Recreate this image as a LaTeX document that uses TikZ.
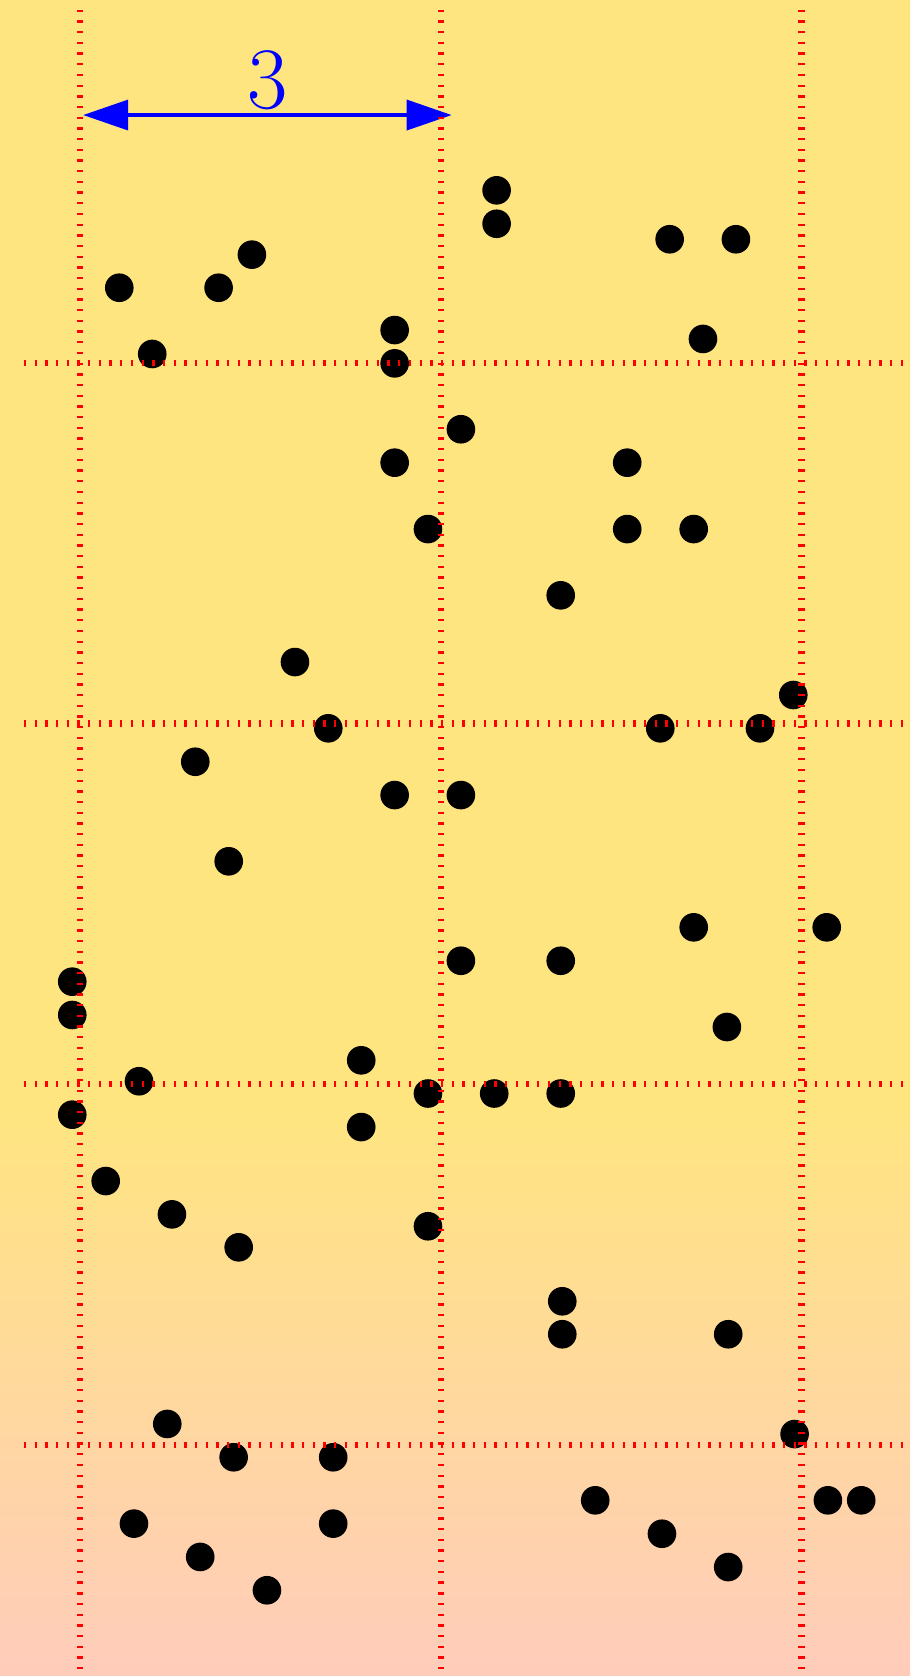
\documentclass[tikz,border=0pt]{standalone}
\usetikzlibrary{arrows.meta}
\definecolor{bgyellow}{RGB}{255,229,128}
\definecolor{bgpink}{RGB}{255,204,187}
\pgfdeclareverticalshading{bgfade}{100bp}{color(0bp)=(bgpink); color(25bp)=(bgpink); color(42bp)=(bgyellow); color(100bp)=(bgyellow)}
\tikzset{
  ball/.style={circle, fill=black, inner sep=0pt, minimum size=0.238cm},
  gridline/.style={red, line width=1.45pt, dash pattern=on 0.55pt off 1.98pt},
  measure/.style={{Triangle[length=0.374cm, width=0.25cm]}-{Triangle[length=0.374cm, width=0.25cm]}, blue, line width=0.8pt},
  measurelabel/.style={text=blue, font=\fontsize{21}{25}\selectfont, inner sep=1.1pt},
}

\begin{document}
\begin{tikzpicture}
  \shade[shading=bgfade] (-0.665,-1.921) rectangle (6.903,12.017);
  \useasboundingbox (-0.665,-1.921) rectangle (6.903,12.017);
  % points
  \node[ball] (p1) at (3.465,10.434) {};
  \node[ball] (p2) at (3.465,10.156) {};
  \node[ball] (p3) at (4.904,10.027) {};
  \node[ball] (p4) at (5.455,10.027) {};
  \node[ball] (p5) at (1.430,9.899) {};
  \node[ball] (p6) at (0.327,9.624) {};
  \node[ball] (p7) at (1.153,9.624) {};
  \node[ball] (p8) at (2.617,9.272) {};
  \node[ball] (p9) at (0.601,9.073) {};
  \node[ball] (p10) at (2.617,8.995) {};
  \node[ball] (p11) at (5.181,9.198) {};
  \node[ball] (p12) at (3.168,8.447) {};
  \node[ball] (p13) at (2.617,8.169) {};
  \node[ball] (p14) at (4.551,8.169) {};
  \node[ball] (p15) at (2.894,7.617) {};
  \node[ball] (p16) at (4.551,7.617) {};
  \node[ball] (p17) at (5.104,7.617) {};
  \node[ball] (p18) at (3.998,7.066) {};
  \node[ball] (p19) at (1.788,6.511) {};
  \node[ball] (p20) at (5.932,6.237) {};
  \node[ball] (p21) at (2.065,5.960) {};
  \node[ball] (p22) at (4.826,5.960) {};
  \node[ball] (p23) at (5.655,5.960) {};
  \node[ball] (p24) at (0.959,5.682) {};
  \node[ball] (p25) at (2.617,5.405) {};
  \node[ball] (p26) at (3.168,5.405) {};
  \node[ball] (p27) at (1.237,4.854) {};
  \node[ball] (p28) at (5.104,4.305) {};
  \node[ball] (p29) at (6.210,4.305) {};
  \node[ball] (p30) at (3.168,4.027) {};
  \node[ball] (p31) at (3.998,4.027) {};
  \node[ball] (p32) at (-0.064,3.853) {};
  \node[ball] (p33) at (-0.064,3.576) {};
  \node[ball] (p34) at (5.380,3.476) {};
  \node[ball] (p35) at (2.339,3.199) {};
  \node[ball] (p36) at (0.491,3.025) {};
  \node[ball] (p37) at (2.894,2.923) {};
  \node[ball] (p38) at (3.445,2.923) {};
  \node[ball] (p39) at (3.998,2.923) {};
  \node[ball] (p40) at (-0.064,2.747) {};
  \node[ball] (p41) at (2.339,2.644) {};
  \node[ball] (p42) at (0.214,2.195) {};
  \node[ball] (p43) at (0.765,1.918) {};
  \node[ball] (p44) at (1.320,1.644) {};
  \node[ball] (p45) at (2.894,1.819) {};
  \node[ball] (p46) at (4.011,1.195) {};
  \node[ball] (p47) at (4.011,0.921) {};
  \node[ball] (p48) at (5.391,0.921) {};
  \node[ball] (p49) at (0.726,0.175) {};
  \node[ball] (p50) at (5.943,0.091) {};
  \node[ball] (p51) at (1.278,-0.102) {};
  \node[ball] (p52) at (2.106,-0.102) {};
  \node[ball] (p53) at (0.449,-0.654) {};
  \node[ball] (p54) at (2.106,-0.654) {};
  \node[ball] (p55) at (4.285,-0.460) {};
  \node[ball] (p56) at (6.220,-0.460) {};
  \node[ball] (p57) at (6.497,-0.460) {};
  \node[ball] (p58) at (1.000,-0.931) {};
  \node[ball] (p59) at (4.840,-0.738) {};
  \node[ball] (p60) at (5.391,-1.015) {};
  \node[ball] (p61) at (1.555,-1.208) {};
  % width of one cell
  \coordinate (mleft) at (0.027,11.06);
  \coordinate (mright) at (3.091,11.06);
  \draw[measure] (mleft) -- node[measurelabel, above] (mlabel) {$3$} (mright);
  % dotted grid
  \foreach \x in {0,3,6}
    \draw[gridline] (\x,11.936) -- (\x,-1.921);
  \foreach \y in {0,3,6,9}
    \draw[gridline] (-0.466,\y) -- (6.903,\y);
\end{tikzpicture}
\end{document}
